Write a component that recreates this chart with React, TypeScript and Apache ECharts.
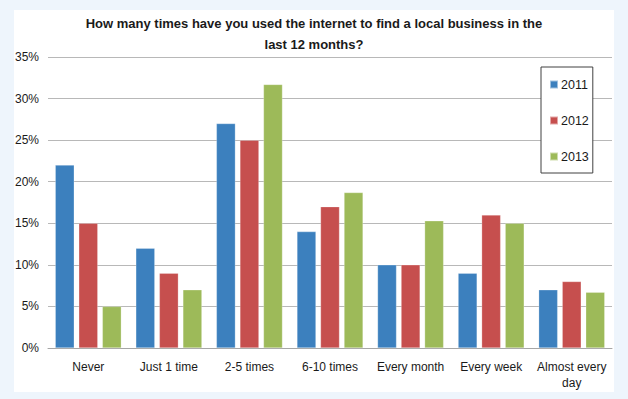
import React, { useEffect, useRef } from "react";
import * as echarts from "echarts";

const categories = ["Never", "Just 1 time", "2-5 times", "6-10 times", "Every month", "Every week", "Almost every day"];
const years = ["2011", "2012", "2013"];
const values2011 = [22, 12, 27, 14, 10, 9, 7];
const values2012 = [15, 9, 25, 17, 10, 16, 8];
const values2013 = [5, 7, 31.7, 18.7, 15.3, 15, 6.7];
const colors = ["#3C80BE", "#C64F4E", "#9DBA59"];
const titleText = "How many times have you used the internet to find a local business in the\nlast 12 months?";

export default function App() {
  const ref = useRef<HTMLDivElement>(null);
  useEffect(() => {
    document.body.style.margin = "0";
    const chart = echarts.init(ref.current!, null, { renderer: "svg" });
    const seriesData = [values2011, values2012, values2013];
    chart.setOption({
      animation: false,
      backgroundColor: "#EEF5FC",
      textStyle: { fontFamily: "Liberation Sans, Arial, sans-serif" },
      graphic: [
        {
          type: "rect",
          z: -10,
          silent: true,
          shape: { x: 14, y: 10, width: 600, height: 382 },
          style: { fill: "#FFFFFF" },
        },
      ],
      title: {
        text: titleText,
        left: "center",
        top: 8,
        textStyle: { fontSize: 13, fontWeight: "bold", color: "#1A1A1A", lineHeight: 21, fontFamily: "Liberation Sans, Arial, sans-serif" },
      },
      legend: {
        orient: "vertical",
        left: 541,
        top: 67,
        data: years,
        icon: "rect",
        itemWidth: 8,
        itemHeight: 8,
        itemGap: 23,
        padding: [11, 4, 10, 8],
        borderColor: "#404040",
        borderWidth: 1,
        backgroundColor: "#FFFFFF",
        textStyle: { fontSize: 12.5, color: "#1A1A1A", padding: [0, 0, 0, -2] },
      },
      grid: { left: 48, right: 16, top: 57, bottom: 51 },
      xAxis: {
        type: "category",
        data: categories,
        axisLine: { show: true, lineStyle: { color: "#A6A6A6", width: 1 } },
        axisTick: { show: false },
        axisLabel: {
          fontSize: 12,
          color: "#1A1A1A",
          margin: 11,
          lineHeight: 16,
          interval: 0,
          formatter: (v: string) => (v.length > 12 ? v.replace(/ (\S+)$/, "\n$1") : v),
        },
      },
      yAxis: {
        type: "value",
        min: 0,
        max: 35,
        interval: 5,
        axisLine: { show: false },
        axisTick: { show: false },
        splitLine: { lineStyle: { color: "#B8B8B8", width: 1 } },
        axisLabel: { fontSize: 12, color: "#1A1A1A", margin: 9, formatter: (v: number) => v + "%" },
      },
      series: years.map((y, i) => ({
        name: y,
        type: "bar",
        data: seriesData[i],
        barGap: "24%",
        barCategoryGap: "18%",
        itemStyle: { color: colors[i], borderColor: "rgba(255,255,255,0.5)", borderWidth: 0.5 },
      })),
    });
    return () => chart.dispose();
  }, []);
  return <div ref={ref} style={{ width: 628, height: 399 }} />;
}
